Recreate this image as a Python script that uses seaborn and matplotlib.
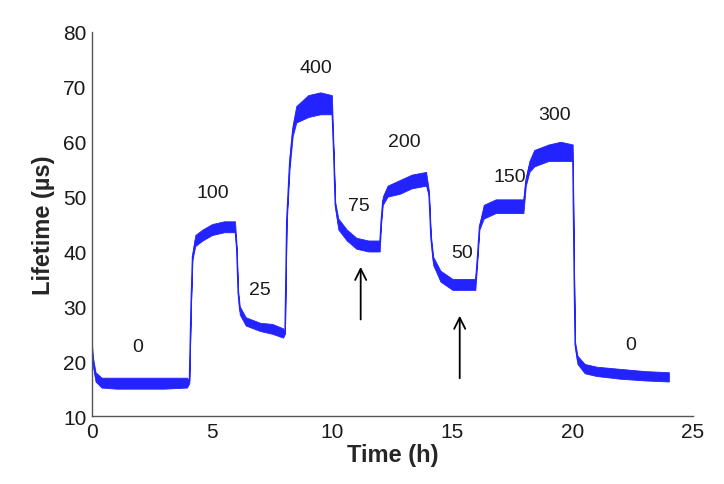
import numpy as np
import pandas as pd
import matplotlib
matplotlib.use("Agg")
import matplotlib.pyplot as plt
import seaborn as sns

# ---- data ----
time_h = [0.00, 0.05, 0.15, 0.40, 1.00, 2.00, 3.00, 3.95,
          4.05, 4.12, 4.18, 4.30, 4.60, 5.00, 5.50, 5.95,
          6.02, 6.08, 6.15, 6.40, 7.00, 7.50, 7.95,
          8.03, 8.10, 8.22, 8.35, 8.50, 9.00, 9.50, 9.98,
          10.05, 10.12, 10.25, 10.60, 11.00, 11.50, 11.97,
          12.03, 12.10, 12.30, 12.80, 13.30, 13.90,
          14.02, 14.10, 14.20, 14.50, 15.00, 15.50, 15.95,
          16.03, 16.12, 16.30, 16.80, 17.40, 17.95,
          18.05, 18.20, 18.40, 19.00, 19.50, 20.00,
          20.06, 20.10, 20.20, 20.50, 21.00, 22.00, 23.00, 24.00]
lifetime_low = [21.5, 19.0, 16.3, 15.2, 15.0, 15.0, 15.0, 15.2,
                16.0, 30.0, 38.5, 41.0, 42.0, 43.0, 43.5, 43.5,
                40.0, 32.0, 28.5, 26.5, 25.5, 25.0, 24.3,
                25.0, 45.0, 55.0, 61.0, 63.5, 64.5, 65.0, 65.0,
                58.0, 48.0, 44.0, 42.0, 40.5, 40.0, 40.0,
                45.0, 48.5, 50.0, 50.5, 51.5, 52.0,
                50.0, 42.0, 37.5, 34.5, 33.0, 33.0, 33.0,
                38.0, 44.0, 46.0, 47.0, 47.0, 47.0,
                52.0, 54.5, 55.5, 56.5, 56.5, 56.5,
                35.0, 22.5, 19.5, 17.8, 17.3, 16.8, 16.5, 16.3]
lifetime_high = [23.0, 20.5, 18.0, 17.0, 17.0, 17.0, 17.0, 17.0,
                 16.5, 30.5, 39.5, 43.0, 44.0, 45.0, 45.5, 45.5,
                 41.0, 33.0, 30.0, 28.0, 27.0, 26.8, 26.0,
                 25.5, 46.0, 57.0, 63.0, 66.5, 68.5, 69.0, 68.5,
                 59.0, 49.0, 46.0, 44.0, 42.5, 42.0, 42.0,
                 46.0, 50.0, 52.0, 53.0, 54.0, 54.5,
                 51.0, 43.0, 39.0, 36.5, 35.0, 35.0, 35.0,
                 39.0, 45.0, 48.5, 49.5, 49.5, 49.5,
                 53.5, 56.5, 58.5, 59.5, 60.0, 59.5,
                 35.5, 23.5, 21.0, 19.5, 19.0, 18.6, 18.2, 18.0]

conc_labels = ["0", "100", "25", "400", "75", "200", "50", "150", "300", "0"]
label_t = [1.91, 5.03, 6.99, 9.32, 11.1, 13.0, 15.4, 17.4, 19.26, 22.4]
label_y = [22.6, 50.8, 33.1, 73.6, 48.3, 60.1, 39.9, 53.6, 65.0, 23.1]

arrow_t = [11.18, 15.3]
arrow_start = [27.1, 16.4]
arrow_end = [37.7, 28.8]

x_ticks = [0, 5, 10, 15, 20, 25]
y_ticks = [10, 20, 30, 40, 50, 60, 70, 80]

# ---- build long table (min/max envelope per time) ----
df = pd.DataFrame({
    "Time": time_h + time_h,
    "Lifetime": lifetime_low + lifetime_high,
})

sns.set_theme(style="white")
plt.rcParams["font.family"] = ["Liberation Sans", "DejaVu Sans"]

fig = plt.figure(figsize=(7.24, 4.85), dpi=100)
ax = fig.add_axes([0.127, 0.140, 0.830, 0.792])

sns.lineplot(data=df, x="Time", y="Lifetime", estimator="mean",
             errorbar=("pi", 100), color="#2323ff", linewidth=0.9,
             err_kws={"alpha": 1.0, "linewidth": 0.6}, ax=ax)

for lab, tx, ty in zip(conc_labels, label_t, label_y):
    ax.text(tx, ty, lab, ha="center", va="center", fontsize=14, color="#1a1a1a")

for tx, y0, y1 in zip(arrow_t, arrow_start, arrow_end):
    ax.annotate("", xy=(tx, y1), xytext=(tx, y0),
                arrowprops=dict(arrowstyle="->", color="black", lw=1.3,
                                mutation_scale=20))

ax.set_xlim(0, 25)
ax.set_ylim(10, 80)
ax.set_xticks(x_ticks)
ax.set_yticks(y_ticks)
ax.tick_params(direction="in", length=5, width=1, colors="#444444",
               labelcolor="#1a1a1a", labelsize=15, pad=4)
for s in ["top", "right"]:
    ax.spines[s].set_visible(False)
for s in ["left", "bottom"]:
    ax.spines[s].set_color("#555555")
    ax.spines[s].set_linewidth(1.0)

ax.set_xlabel("Time (h)", fontsize=17, fontweight="bold", labelpad=2)
ax.set_ylabel("Lifetime (\u00b5s)", fontsize=17, fontweight="bold", labelpad=6)

fig.savefig("out.png", dpi=100)
